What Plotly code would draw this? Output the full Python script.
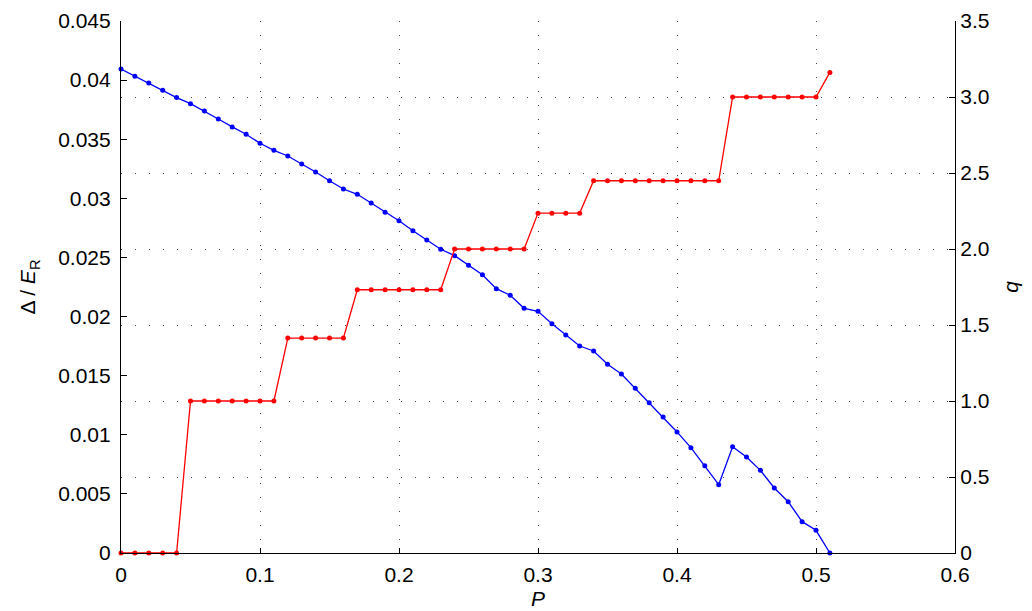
import plotly.graph_objects as go

# ---- data ----
P = [round(0.01 * i, 2) for i in range(52)]

delta = [0.04094, 0.04032, 0.03976, 0.03914, 0.03852, 0.03801, 0.03739, 0.03671,
         0.03604, 0.03542, 0.03466, 0.03406, 0.03358, 0.03291, 0.03223, 0.03149,
         0.03079, 0.03034, 0.02961, 0.02882, 0.02811, 0.02726, 0.02648, 0.02569,
         0.02515, 0.02434, 0.02354, 0.02236, 0.02180, 0.02070, 0.02044, 0.01940,
         0.01844, 0.01751, 0.01709, 0.01596, 0.01514, 0.01393, 0.01271, 0.01150,
         0.01024, 0.00891, 0.00739, 0.00578, 0.00899, 0.00812, 0.00699, 0.00550,
         0.00434, 0.00265, 0.00192, 0.0]

q = ([0.0] * 5 + [1.0] * 7 + [1.414] * 5 + [1.732] * 7 + [2.0] * 6 +
     [2.236] * 4 + [2.449] * 10 + [3.0] * 7 + [3.162])

x_ticks = [0, 0.1, 0.2, 0.3, 0.4, 0.5, 0.6]
x_ticktext = ["0", "0.1", "0.2", "0.3", "0.4", "0.5", "0.6"]
left_ticks = [0, 0.005, 0.01, 0.015, 0.02, 0.025, 0.03, 0.035, 0.04, 0.045]
left_ticktext = ["0", "0.005", "0.01", "0.015", "0.02", "0.025", "0.03", "0.035", "0.04", "0.045"]
right_ticks = [0, 0.5, 1.0, 1.5, 2.0, 2.5, 3.0, 3.5]
right_ticktext = ["0", "0.5", "1.0", "1.5", "2.0", "2.5", "3.0", "3.5"]

FONT = "Liberation Sans, Arial, Helvetica, sans-serif"
FS = 21

fig = go.Figure()
fig.add_trace(go.Scatter(x=P, y=delta, mode="lines+markers",
                         line=dict(color="#0000ff", width=1.3),
                         marker=dict(color="#0000ff", size=5),
                         yaxis="y", showlegend=False, cliponaxis=False))
fig.add_trace(go.Scatter(x=P, y=q, mode="lines+markers",
                         line=dict(color="#ff0000", width=1.3),
                         marker=dict(color="#ff0000", size=5),
                         yaxis="y2", showlegend=False, cliponaxis=False))

fig.update_layout(
    width=1032, height=611,
    margin=dict(l=113, r=85, t=13, b=66),
    paper_bgcolor="white", plot_bgcolor="white",
    font=dict(family=FONT, size=FS, color="black"),
    xaxis=dict(range=[0, 0.6], tickmode="array", tickvals=x_ticks, ticktext=x_ticktext,
               ticks="inside", ticklen=5, tickcolor="black", tickwidth=1,
               showline=True, linecolor="black", linewidth=1.2, zeroline=False,
               showgrid=True, gridcolor="#444444", gridwidth=1, griddash="1px,13px",
               automargin=False, tickfont=dict(size=FS), ticklabelstandoff=3,
               title=dict(text="<i>P</i>", standoff=6, font=dict(size=FS))),
    yaxis=dict(range=[0, 0.045], tickmode="array", tickvals=left_ticks, ticktext=left_ticktext,
               ticks="inside", ticklen=6, tickcolor="black", tickwidth=1,
               showline=True, linecolor="black", linewidth=1.2, zeroline=False,
               showgrid=False, automargin=False, tickfont=dict(size=FS), ticklabelstandoff=5,
               title=dict(text="Δ / <i>E</i><sub>R</sub>", standoff=16, font=dict(size=FS))),
    yaxis2=dict(range=[0, 3.5], overlaying="y", side="right",
                tickmode="array", tickvals=right_ticks, ticktext=right_ticktext,
                ticks="inside", ticklen=6, tickcolor="black", tickwidth=1,
                showline=True, linecolor="black", linewidth=1.2, zeroline=False,
                showgrid=True, gridcolor="#444444", gridwidth=1, griddash="1px,13px",
                automargin=False, tickfont=dict(size=FS),
                title=dict(text="<i>q</i>", standoff=14, font=dict(size=FS))),
)

fig.write_html("out.html")
